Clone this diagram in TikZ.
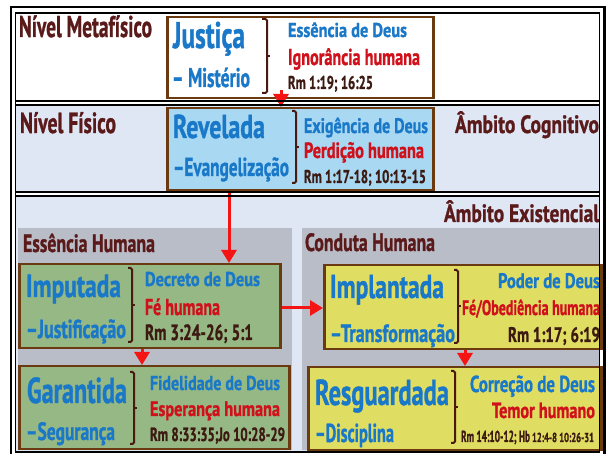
\documentclass[tikz,border=0pt]{standalone}
\usepackage{fontspec}
\usepackage{graphicx}
\setmainfont{PT Sans}[BoldFeatures={FakeBold=1.2}]
\usetikzlibrary{arrows.meta}
\definecolor{hd}{HTML}{5A1A1A}
\definecolor{bl}{HTML}{1A78C8}
\definecolor{rd}{HTML}{D0101A}
\definecolor{rf}{HTML}{3C1A12}
\definecolor{bx}{HTML}{6B3A10}
\definecolor{br}{HTML}{4A1A10}
\definecolor{lb}{HTML}{DFE6F4}
\definecolor{cy}{HTML}{A8D8F2}
\definecolor{gp}{HTML}{B9BDC8}
\definecolor{gn}{HTML}{95B884}
\definecolor{yl}{HTML}{DFDD62}
\definecolor{ar}{HTML}{F41414}
\newcommand\T[3]{{\fontsize{#2pt}{#2pt}\selectfont\resizebox{#1pt}{\height}{#3}}}
\newcommand\brk[4]{\draw[brk] (#1,#3) -- (#2,#3) -- (#2,#4) -- (#1,#4);
  \draw[brk] (#2,{(#3+#4)/2}) -- ++(3,0);}
\begin{document}
\begin{tikzpicture}[x=1pt,y=-1pt,
  txt/.style={inner sep=0pt, outer sep=0pt, font=\bfseries},
  lt/.style={txt, anchor=base west},
  rt/.style={txt, anchor=base east},
  box/.style={draw=bx, line width=2.5pt, anchor=north west, inner sep=0pt},
  arr/.style={draw=ar, line width=3pt, -{Triangle[width=15pt,length=13pt]}},
  brk/.style={draw=br, line width=2pt, rounded corners=1.5pt},
  frm/.style={draw=black, line width=2pt}]
\useasboundingbox (0,0) rectangle (611,454);
\fill[white] (0,0) rectangle (611,454);
% section backgrounds
\fill[lb] (15.5,105) rectangle (599.5,192);
\fill[lb] (15.5,196) rectangle (599.5,452);
\fill[gp] (18,228) rectangle (292,450);
\fill[gp] (302,228) rectangle (600,450);
% boxes
\node[box, fill=white, minimum width=266, minimum height=81] (jus) at (166,16) {};
\node[box, fill=cy, minimum width=266, minimum height=82] (rev) at (166,107) {};
\node[box, fill=gn, minimum width=261, minimum height=84] (imp) at (18,263) {};
\node[box, fill=gn, minimum width=270, minimum height=83] (gar) at (18,365) {};
\node[box, fill=yl, minimum width=277, minimum height=84] (impl) at (323,264) {};
\node[box, fill=yl, minimum width=293, minimum height=83] (res) at (307,366) {};
% Metafisico
\node[lt, hd] (h1) at (19,37) {\T{133}{30}{Nível Metafísico}};
\node[lt, bl] (j1) at (173,48) {\T{72}{37}{Justiça}};
\node[lt, bl] (j2) at (172,87) {\T{78}{27}{– Mistério}};
\node[lt, bl] (j3) at (288,37) {\T{119}{20}{Essência de Deus}};
\node[lt, rd] (j4) at (288,65) {\T{132}{23}{Ignorância humana}};
\node[lt, rf] (j5) at (288,89) {\T{85}{18.5}{Rm 1:19; 16:25}};
\brk{262}{267}{19}{93}
% Fisico
\node[lt, hd] (h2) at (20,133) {\T{96}{29}{Nível Físico}};
\node[rt, hd] (h3) at (599,133) {\T{144}{25}{Âmbito Cognitivo}};
\node[lt, bl] (r1) at (173,138) {\T{92}{33}{Revelada}};
\node[lt, bl] (r2) at (173,176) {\T{116}{26}{–Evangelização}};
\node[lt, bl] (r3) at (304,133) {\T{124}{21}{Exigência de Deus}};
\node[lt, rd] (r4) at (304,158) {\T{120}{22}{Perdição humana}};
\node[lt, rf] (r5) at (304,183) {\T{122}{18.5}{Rm 1:17-18; 10:13-15}};
\brk{292}{296}{111}{183}
% Existencial
\node[rt, hd] (h4) at (599,222) {\T{155}{25}{Âmbito Existencial}};
\node[lt, hd] (h5) at (23,252) {\T{132}{25}{Essência Humana}};
\node[lt, hd] (h6) at (305,251) {\T{130}{25}{Conduta Humana}};
% Imputada
\node[lt, bl] (i1) at (26,297) {\T{95}{32}{Imputada}};
\node[lt, bl] (i2) at (26,338) {\T{100}{26}{–Justificação}};
\node[lt, bl] (i3) at (145,286) {\T{115}{20}{Decreto de Deus}};
\node[lt, rd] (i4) at (145,315) {\T{75}{23}{Fé humana}};
\node[lt, rf] (i5) at (145,340) {\T{108}{22}{Rm 3:24-26; 5:1}};
\brk{128}{132}{268}{342}
% Garantida
\node[lt, bl] (g1) at (27,403) {\T{100}{36}{Garantida}};
\node[lt, bl] (g2) at (26,440) {\T{89}{25}{–Segurança}};
\node[lt, bl] (g3) at (150,390) {\T{130}{20}{Fidelidade de Deus}};
\node[lt, rd] (g4) at (150,416) {\T{130}{21}{Esperança humana}};
\node[lt, rf] (g5) at (150,441) {\T{135}{19}{Rm 8:33:35;Jo 10:28-29}};
\brk{130}{134}{372}{444}
% Implantada
\node[lt, bl] (p1) at (330,298) {\T{114}{33}{Implantada}};
\node[lt, bl] (p2) at (330,342) {\T{125}{25}{–Transformação}};
\node[rt, bl] (p3) at (600,288) {\T{102}{21}{Poder de Deus}};
\node[rt, rd] (p4) at (600,315) {\T{138}{21}{Fé/Obediência humana}};
\node[rt, rf] (p5) at (600,342) {\T{92}{21}{Rm 1:17; 6:19}};
\brk{454}{458}{270}{343}
% Resguardada
\node[lt, bl] (s1) at (315,405) {\T{134}{36}{Resguardada}};
\node[lt, bl] (s2) at (315,442) {\T{79}{26}{–Disciplina}};
\node[rt, bl] (s3) at (595,392) {\T{125}{23}{Correção de Deus}};
\node[rt, rd] (s4) at (595,418) {\T{103}{22}{Temor humano}};
\node[rt, rf] (s5) at (594,442) {\T{69}{16}{Rm 14:10-12; Hb}\hspace{2pt}\T{62}{13}{12:4-8 10:26-31}};
\brk{451}{455}{371}{443}
% arrows
\draw[arr] ([yshift=9pt]jus.south -| 281,0) -- (rev.north -| 281,0);
\draw[arr] (rev.south -| 229,0) -- (imp.north -| 229,0);
\draw[arr] (imp.south -| 142,0) -- (gar.north -| 142,0);
\draw[arr] (imp.east |- 0,308) -- (impl.west |- 0,308);
\draw[arr] (impl.south -| 465,0) -- (res.north -| 465,0);
% frame
\draw[line width=2.5pt] (11,7) rectangle (604.5,470);
\draw[line width=1.5pt] (15.5,13) rectangle (599.5,452);
\draw[frm] (15.5,101) -- (599.5,101);
\draw[frm] (15.5,105) -- (599.5,105);
\draw[frm] (15.5,192) -- (599.5,192);
\draw[frm] (15.5,196) -- (599.5,196);
\end{tikzpicture}
\end{document}
